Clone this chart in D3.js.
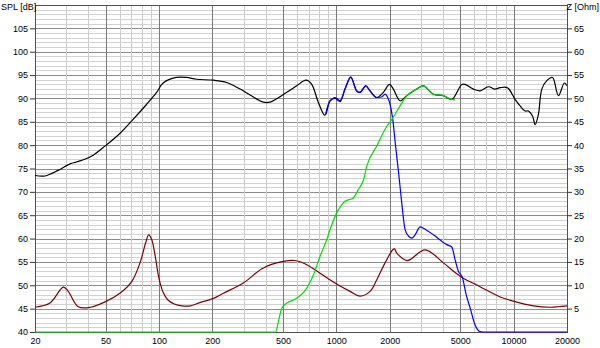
<!DOCTYPE html>
<html>
<head>
<meta charset="utf-8">
<script src="https://cdn.jsdelivr.net/npm/d3@7"></script>
<style>
  body { margin: 0; background: #fff; }
  text { font-family: "Liberation Sans", Arial, sans-serif; font-size: 9px; fill: #000; }
</style>
</head>
<body>
<svg id="chart" width="600" height="348"></svg>
<script>
// total response (black), left axis
const sumFreq = [20, 22.8, 27, 31.5, 34.3, 41.1, 50, 60.2, 71.5, 85, 97, 105.6, 125, 143, 163, 203, 241, 287, 388, 423, 526, 598, 675, 727, 793, 864, 922, 984, 1050, 1120, 1207, 1304, 1362, 1466, 1550, 1692, 1844, 1993, 2099, 2290, 2497, 2840, 3098, 3529, 4018, 4480, 5102, 5324, 5932, 6470, 7206, 7860, 8387, 9222, 10194, 10878, 11605, 12116, 12800, 13218, 13800, 14420, 15386, 16553, 17888, 19334, 20000];
const sumDb   = [73.5, 73.4, 74.6, 76.0, 76.4, 77.5, 79.9, 82.5, 85.5, 88.7, 91.3, 93.3, 94.5, 94.5, 94.1, 93.9, 93.4, 92.0, 89.2, 89.2, 91.3, 92.7, 93.9, 93.0, 89.1, 86.4, 89.5, 90.2, 89.5, 92.0, 94.5, 91.6, 91.3, 92.7, 91.6, 90.2, 91.3, 93.0, 92.0, 89.5, 90.6, 92.0, 92.7, 90.9, 90.6, 89.8, 93.0, 93.0, 92.0, 91.6, 92.5, 92.0, 92.3, 92.3, 89.8, 88.4, 87.3, 87.3, 86.2, 84.4, 86.6, 92.0, 93.8, 94.5, 90.6, 93.3, 92.7];

// woofer (blue), left axis
const wooferFreq = [870, 922, 984, 1050, 1120, 1207, 1304, 1362, 1466, 1550, 1692, 1800, 1890, 1950, 2010, 2082, 2150, 2268, 2340, 2444, 2560, 2666, 2782, 2968, 3200, 3529, 4200, 4480, 4676, 4883, 5150, 5400, 5700, 6064, 6450, 6700, 20000];
const wooferDb   = [86.6, 89.5, 90.0, 89.3, 92.0, 94.6, 91.6, 91.3, 92.7, 91.6, 90.2, 90.3, 90.9, 90.2, 88.8, 85.5, 80.5, 72.6, 67.6, 61.9, 60.5, 60.1, 60.8, 62.5, 61.9, 60.8, 58.7, 58.2, 55.5, 53.0, 51.6, 48.0, 45.0, 41.5, 40.1, 40, 40];

// tweeter (green), left axis
const tweeterFreq = [20, 455, 470, 493, 526, 585, 682, 743, 810, 884, 922, 1006, 1120, 1248, 1332, 1426, 1486, 1692, 1884, 2058, 2290, 2497, 2840, 3098, 3529, 4018, 4480, 4676];
const tweeterDb   = [40, 40, 42, 45.1, 46.2, 47.0, 49.4, 52.2, 56.2, 59.8, 61.9, 65.5, 68.0, 68.7, 70.5, 72.6, 75.5, 79.8, 83.4, 85.5, 88.4, 90.6, 92.0, 92.7, 90.9, 90.6, 89.8, 89.7];

// impedance (dark red), right axis
const impFreq = [20, 24.3, 28.9, 30.8, 35.1, 41.1, 50, 60.2, 70.2, 78.2, 84, 87.5, 91, 95, 100, 105.6, 112, 122, 135, 150, 170, 203, 231, 299, 388, 503, 585, 682, 810, 984, 1196, 1362, 1550, 1692, 1884, 2082, 2130, 2193, 2509, 3169, 4018, 5020, 6470, 8387, 10194, 12929, 16060, 17800, 20000];
const impOhm  = [5.3, 6.2, 9.6, 8.7, 5.4, 5.3, 6.5, 8.3, 10.8, 14.8, 19.0, 20.8, 19.8, 16.5, 11.5, 8.5, 6.9, 6.0, 5.6, 5.6, 6.3, 7.2, 8.3, 10.5, 13.7, 15.1, 15.3, 14.4, 12.6, 10.5, 8.7, 7.7, 8.7, 11.2, 14.8, 17.6, 17.8, 16.9, 15.3, 17.6, 14.8, 11.9, 9.7, 7.5, 6.5, 5.6, 5.3, 5.4, 5.6];

const freqLabels = [20, 50, 100, 200, 500, 1000, 2000, 5000, 10000, 20000];
const splTicks = [40, 45, 50, 55, 60, 65, 70, 75, 80, 85, 90, 95, 100, 105];
const ohmTicks = [5, 10, 15, 20, 25, 30, 35, 40, 45, 50, 55, 60, 65];

const PL = 35, PR = 567, PT = 5, PB = 332;
const svg = d3.select("#chart");

const x = d3.scaleLog().domain([20, 20000]).range([PL, PR]);
const y = d3.scaleLinear().domain([40, 110]).range([PB, PT]);
const yz = d3.scaleLinear().domain([0, 70]).range([PB, PT]);

// grid
const grid = svg.append("g").attr("shape-rendering", "crispEdges");
for (let v = 41; v < 110; v++) {
    grid.append("line")
        .attr("x1", PL).attr("x2", PR)
        .attr("y1", Math.round(y(v)) + 0.5).attr("y2", Math.round(y(v)) + 0.5)
        .attr("stroke", v % 5 === 0 ? "#8c8c8c" : "#d2d2d2");
}
for (let dec = 10; dec <= 10000; dec *= 10) {
    for (let m = 1; m <= 9; m++) {
        const f = dec * m;
        if (f <= 20 || f >= 20000) continue;
        const major = (m === 1 || m === 2 || m === 5);
        grid.append("line")
            .attr("x1", Math.round(x(f)) + 0.5).attr("x2", Math.round(x(f)) + 0.5)
            .attr("y1", PT).attr("y2", PB)
            .attr("stroke", major ? "#7a7a7a" : "#cdcdcd");
    }
}

// frame
svg.append("rect")
    .attr("x", PL + 0.5).attr("y", PT + 0.5)
    .attr("width", PR - PL).attr("height", PB - PT)
    .attr("fill", "none").attr("stroke", "#505050")
    .attr("shape-rendering", "crispEdges");

// axes
const axL = d3.axisLeft(y).tickValues(splTicks).tickSize(5).tickPadding(2);
const axR = d3.axisRight(yz).tickValues(ohmTicks).tickSize(5).tickPadding(2);
const axB = d3.axisBottom(x).tickValues(freqLabels).tickSize(0).tickPadding(6)
    .tickFormat(d3.format("d"));

svg.append("g").attr("transform", `translate(${PL},0)`).call(axL);
svg.append("g").attr("transform", `translate(${PR},0)`).call(axR);
svg.append("g").attr("transform", `translate(0,${PB})`).call(axB);

svg.selectAll(".domain").remove();
svg.selectAll(".tick line").attr("stroke", "#333");
svg.selectAll(".tick text").style("font-family", "\"Liberation Sans\", Arial, sans-serif")
    .style("font-size", "9px").attr("fill", "#000");

svg.append("text").attr("x", 1).attr("y", 10).text("SPL [dB]");
svg.append("text").attr("x", 599).attr("y", 10).attr("text-anchor", "end").text("Z [Ohm]");

// curves
svg.append("clipPath").attr("id", "plot")
    .append("rect").attr("x", PL).attr("y", PT).attr("width", PR - PL).attr("height", PB - PT + 2);

const smooth = d3.curveCatmullRom.alpha(0.5);
const lineL = d3.line().x(d => x(d[0])).y(d => y(d[1])).curve(smooth);
const lineZ = d3.line().x(d => x(d[0])).y(d => yz(d[1])).curve(smooth);
// the driver curves sit flat on the floor, so no overshoot there
const lineFloor = d3.line().x(d => x(d[0])).y(d => y(d[1])).curve(d3.curveMonotoneX);

const curves = svg.append("g").attr("clip-path", "url(#plot)").attr("fill", "none").attr("stroke-width", 1.2);

curves.append("path").datum(d3.zip(impFreq, impOhm)).attr("d", lineZ).attr("stroke", "#800000");
curves.append("path").datum(d3.zip(sumFreq, sumDb)).attr("d", lineL).attr("stroke", "#000");
curves.append("path").datum(d3.zip(wooferFreq, wooferDb)).attr("d", lineFloor).attr("stroke", "#0000ff");
curves.append("path").datum(d3.zip(tweeterFreq, tweeterDb)).attr("d", lineFloor).attr("stroke", "#00dd00");
</script>
</body>
</html>
